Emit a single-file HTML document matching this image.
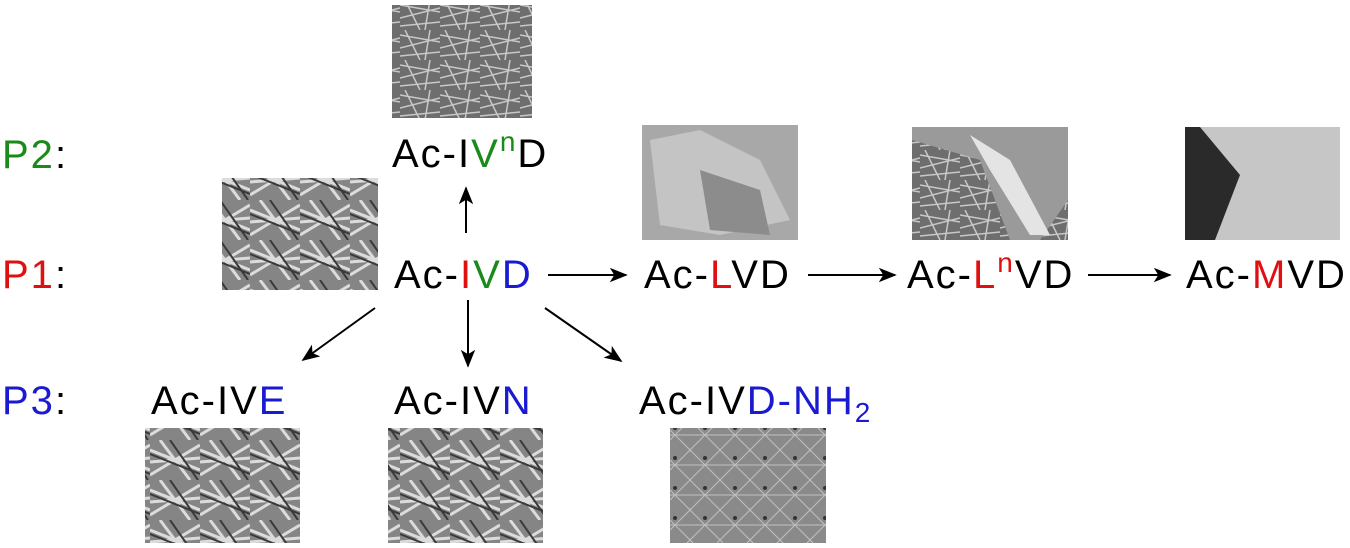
<!DOCTYPE html>
<html><head><meta charset="utf-8"><style>
html,body{margin:0;padding:0;background:#fff;}
svg{display:block;}
text{font-family:"Liberation Sans",Arial,sans-serif;font-size:40px;letter-spacing:2px;}
</style></head><body>
<svg width="1350" height="548" viewBox="0 0 1350 548">
<defs>
<marker id="ah" viewBox="0 0 10 10" refX="9" refY="5" markerWidth="9" markerHeight="9" orient="auto"><path d="M0,1 L10,5 L0,9 L2.5,5z" fill="#000"/></marker>
<pattern id="fib" width="40" height="30" patternUnits="userSpaceOnUse"><rect width="40" height="30" fill="#6e6e6e"/><path d="M0,5 L40,12 M0,18 L40,8 M5,0 L20,30 M0,26 L40,22 M30,0 L25,30" stroke="#c8c8c8" stroke-width="1.5"/></pattern>
<pattern id="rod" width="50" height="40" patternUnits="userSpaceOnUse"><rect width="50" height="40" fill="#858585"/><path d="M0,10 L50,30 M0,35 L50,5 M10,0 L40,40 M0,22 L50,18" stroke="#dcdcdc" stroke-width="3"/><path d="M0,14 L50,34 M20,0 L48,40" stroke="#3a3a3a" stroke-width="2"/></pattern>
<pattern id="mesh" width="30" height="30" patternUnits="userSpaceOnUse"><rect width="30" height="30" fill="#8a8a8a"/><path d="M0,0 L30,30 M30,0 L0,30 M0,15 L30,15" stroke="#c0c0c0" stroke-width="1"/><circle cx="15" cy="8" r="2" fill="#333"/></pattern>
</defs>

<rect x="392" y="5" width="140" height="113" fill="url(#fib)"/>
<rect x="222" y="178" width="156" height="112" fill="url(#rod)"/>
<g>
<rect x="642" y="125" width="156" height="115" fill="#a8a8a8"/>
<path d="M650,140 L700,130 L760,160 L790,220 L720,235 L660,225z" fill="#c4c4c4"/>
<path d="M700,170 L760,190 L770,235 L710,230z" fill="#8c8c8c"/>
</g>
<g>
<rect x="912" y="127" width="156" height="113" fill="url(#fib)"/>
<path d="M912,127 L1068,127 L1068,200 L1040,240 L1010,240 L980,160 L912,140z" fill="#9a9a9a"/>
<path d="M970,135 L1010,160 L1050,235 L1030,235 L990,170z" fill="#e4e4e4"/>
</g>
<g>
<rect x="1185" y="127" width="155" height="113" fill="#c6c6c6"/>
<path d="M1185,127 L1200,127 L1240,175 L1215,240 L1185,240z" fill="#2a2a2a"/>
</g>
<rect x="145" y="428" width="155" height="115" fill="url(#rod)"/>
<rect x="388" y="428" width="155" height="115" fill="url(#rod)"/>
<rect x="670" y="428" width="156" height="115" fill="url(#mesh)"/>

<text x="2" y="168"><tspan fill="#1a8a1a">P2</tspan><tspan fill="#000">:</tspan></text>
<text x="2" y="288"><tspan fill="#e01010">P1</tspan><tspan fill="#000">:</tspan></text>
<text x="2" y="414"><tspan fill="#1a1ad0">P3</tspan><tspan fill="#000">:</tspan></text>

<text x="392" y="167">Ac-I<tspan fill="#1a8a1a">V</tspan><tspan fill="#1a8a1a" font-size="28" dy="-16">n</tspan><tspan dy="16">D</tspan></text>
<text x="394" y="288">Ac-<tspan fill="#e01010">I</tspan><tspan fill="#1a8a1a">V</tspan><tspan fill="#1a1ad0">D</tspan></text>
<text x="644" y="288">Ac-<tspan fill="#e01010">L</tspan>VD</text>
<text x="907" y="288">Ac-<tspan fill="#e01010">L</tspan><tspan fill="#e01010" font-size="28" dy="-16">n</tspan><tspan dy="16">VD</tspan></text>
<text x="1186" y="288">Ac-<tspan fill="#e01010">M</tspan>VD</text>
<text x="151" y="414">Ac-IV<tspan fill="#1a1ad0">E</tspan></text>
<text x="394" y="414">Ac-IV<tspan fill="#1a1ad0">N</tspan></text>
<text x="639" y="414">Ac-IV<tspan fill="#1a1ad0">D-NH</tspan><tspan fill="#1a1ad0" font-size="28" dy="8">2</tspan></text>

<g stroke="#000" stroke-width="2" marker-end="url(#ah)">
<line x1="466" y1="233" x2="466" y2="188"/>
<line x1="548" y1="275" x2="626" y2="275"/>
<line x1="808" y1="275" x2="895" y2="275"/>
<line x1="1088" y1="275" x2="1170" y2="275"/>
<line x1="375" y1="308" x2="303" y2="360"/>
<line x1="468" y1="300" x2="468" y2="366"/>
<line x1="545" y1="308" x2="621" y2="361"/>
</g>
</svg>
</body></html>
